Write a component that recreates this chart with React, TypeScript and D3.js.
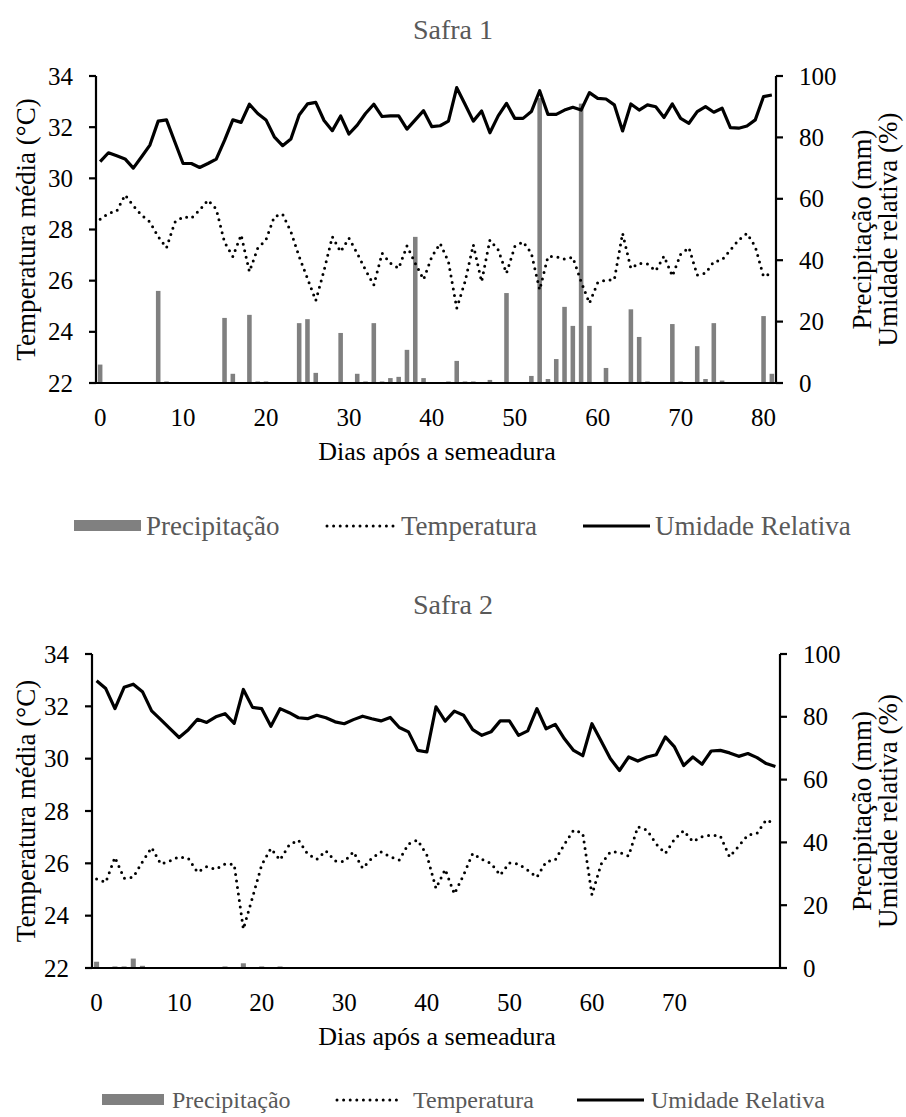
import React, { useRef, useEffect } from "react";
import { select, scaleLinear, line } from "d3";

// Safra 1: one value per day (0..81)
const safra1Prec = [
  6, 0, 0, 0, 0, 0, 0, 30, 0.5, 0,
  0, 0, 0, 0, 0, 21.2, 3, 0, 22.2, 0.5,
  0.5, 0, 0, 0, 19.5, 20.8, 3.3, 0, 0, 16.3,
  0, 3, 0.5, 19.5, 0.5, 1.6, 2, 10.8, 47.6, 1.6,
  0, 0, 0.5, 7.2, 0.5, 0.5, 0, 1, 0, 29.3,
  0, 0, 2.3, 92.8, 1.3, 7.8, 24.8, 18.6, 91, 18.6,
  0, 4.9, 0, 0, 24, 15, 0.5, 0, 0, 19.2,
  0.5, 0, 12, 1.3, 19.5, 0.8, 0, 0, 0, 0,
  21.8, 3,
];
const safra1Temp = [
  28.4, 28.63, 28.72, 29.35, 28.93, 28.56, 28.3, 27.72, 27.28, 28.28,
  28.5, 28.44, 28.76, 29.15, 28.8, 27.5, 26.94, 27.79, 26.35, 27.27,
  27.6, 28.5, 28.6, 27.92, 26.94, 26.09, 25.22, 26.4, 27.72, 27.13,
  27.66, 27.07, 26.42, 25.83, 27.07, 26.68, 26.48, 27.36, 26.68, 26.05,
  26.94, 27.46, 26.74, 24.92, 25.96, 27.4, 25.96, 27.59, 27.2, 26.29,
  27.33, 27.52, 27.07, 25.64, 26.94, 26.94, 26.84, 26.91, 25.96, 25.12,
  25.92, 26.03, 26.03, 27.85, 26.48, 26.68, 26.65, 26.38, 26.96, 26.18,
  27.03, 27.29, 26.22, 26.29, 26.74, 26.81, 27.2, 27.59, 27.85, 27.33,
  26.16, 26.29,
];
const safra1UR = [
  72.1, 75, 74, 73, 70, 73.7, 77.5, 85.3, 85.7, 78.6,
  71.5, 71.5, 70.2, 71.5, 72.9, 79, 85.7, 84.9, 90.8, 87.8,
  85.7, 80.2, 77.3, 79.5, 87.3, 90.9, 91.4, 85.5, 82.2, 87,
  81.1, 84, 87.8, 90.8, 86.8, 87, 87, 82.7, 85.7, 88.7,
  83.5, 83.8, 85.3, 96.2, 90.8, 85.3, 88.6, 81.5, 87, 91.1,
  86.2, 86.2, 88.4, 95.2, 87.5, 87.5, 88.9, 89.8, 88.9, 94.6,
  92.7, 92.5, 90.6, 82.1, 90.9, 88.9, 90.6, 90, 86.5, 90.9,
  86.2, 84.6, 88.4, 90, 88.2, 89.5, 83.2, 83, 83.7, 85.7,
  93.3, 93.8,
];
const safra1XLabels = ["0", "10", "20", "30", "40", "50", "60", "70", "80"];
const safra1XLabelIdx = [0, 10, 20, 30, 40, 50, 60, 70, 80];

// Safra 2: 75 records
const safra2Prec = [
  2, 0, 0.5, 0.5, 3, 0.7, 0, 0, 0, 0,
  0, 0, 0, 0, 0.5, 0, 1.5, 0, 0.5, 0,
  0.5, 0, 0, 0, 0, 0, 0, 0, 0, 0,
  0, 0, 0, 0, 0, 0, 0, 0, 0, 0,
  0, 0, 0, 0, 0, 0, 0, 0, 0, 0,
  0, 0, 0, 0, 0, 0, 0, 0, 0, 0,
  0, 0, 0, 0, 0, 0, 0, 0, 0, 0,
  0, 0, 0, 0, 0,
];
const safra2Temp = [
  25.4, 25.28, 26.23, 25.43, 25.47, 26.06, 26.6, 25.97, 26.09, 26.25,
  26.19, 25.66, 25.87, 25.77, 25.97, 25.96, 23.49, 24.7, 25.94, 26.57,
  26.13, 26.7, 26.89, 26.36, 26.15, 26.48, 26.09, 26.06, 26.44, 25.81,
  26.19, 26.44, 26.25, 26.13, 26.74, 26.89, 26.32, 25.04, 25.77, 24.83,
  25.55, 26.38, 26.15, 26, 25.55, 26.02, 25.97, 25.74, 25.47, 26.06,
  26.13, 26.73, 27.27, 27.15, 24.8, 25.97, 26.44, 26.42, 26.28, 27.4,
  27.27, 26.74, 26.38, 26.92, 27.25, 26.83, 27.02, 27.08, 27.04, 26.25,
  26.66, 27.08, 27.15, 27.66, 27.5,
];
const safra2UR = [
  91.5, 89, 82.6, 89.4, 90.4, 88, 81.9, 79.1, 76.2, 73.4,
  75.9, 79.2, 78.2, 80, 81, 77.9, 88.7, 83, 82.6, 77,
  82.6, 81.3, 79.7, 79.4, 80.5, 79.7, 78.4, 77.8, 79.1, 80.2,
  79.4, 78.7, 79.8, 76.6, 75.2, 69.3, 68.8, 83.2, 78.6, 81.8,
  80.5, 75.9, 74.1, 75.2, 78.7, 78.7, 74.1, 75.5, 82.6, 76.2,
  77.6, 73, 69.3, 67.6, 77.8, 72.3, 66.7, 62.9, 67.2, 65.9,
  67.2, 67.9, 73.6, 70.4, 64.5, 67.2, 64.9, 69.1, 69.3, 68.5,
  67.4, 68.3, 67, 65.1, 64.2,
];
const safra2XLabels = ["0", "10", "20", "30", "40", "50", "60", "70"];
const safra2XLabelIdx = [0, 9, 18, 27, 36, 45, 54, 63];

const tempTicks = [22, 24, 26, 28, 30, 32, 34];
const precTicks = [0, 20, 40, 60, 80, 100];

const FONT = '"Liberation Serif", "DejaVu Serif", "Times New Roman", serif';
const GRAY_TEXT = "#595959";
const BAR = "#808080";

const Panel = ({ title, prec, temp, ur, xLabels, xLabelIdx, geo }) => {
  const gRef = useRef(null);

  useEffect(() => {
    const g = select(gRef.current);
    g.selectAll("*").remove();

    const n = prec.length;
    const x = scaleLinear().domain([-0.5, n - 0.5]).range([geo.left, geo.right]);
    const yT = scaleLinear().domain([22, 34]).range([geo.bottom, geo.top]);
    const yP = scaleLinear().domain([0, 100]).range([geo.bottom, geo.top]);
    const step = x(1) - x(0);
    const barW = step * 0.55;

    const txt = (sel) => sel.style("font-family", FONT);

    // title
    g.append("text")
      .call(txt)
      .attr("x", 453)
      .attr("y", geo.titleY)
      .attr("text-anchor", "middle")
      .attr("font-size", 28)
      .attr("fill", GRAY_TEXT)
      .text(title);

    // precipitation bars
    g.selectAll(".bar")
      .data(prec)
      .join("rect")
      .attr("class", "bar")
      .attr("x", (d, i) => x(i) - barW / 2)
      .attr("width", barW)
      .attr("y", (d) => yP(d))
      .attr("height", (d) => yP(0) - yP(d))
      .attr("fill", BAR);

    // temperature (dotted) and humidity (solid)
    const tempLine = line().x((d, i) => x(i)).y((d) => yT(d));
    const urLine = line().x((d, i) => x(i)).y((d) => yP(d));

    g.append("path")
      .attr("d", tempLine(temp))
      .attr("fill", "none")
      .attr("stroke", "#000")
      .attr("stroke-width", 3)
      .attr("stroke-linecap", "round")
      .attr("stroke-dasharray", "0 6.6");

    g.append("path")
      .attr("d", urLine(ur))
      .attr("fill", "none")
      .attr("stroke", "#000")
      .attr("stroke-width", 3.2)
      .attr("stroke-linejoin", "round");

    // axes lines
    g.append("line")
      .attr("x1", geo.left).attr("x2", geo.right)
      .attr("y1", geo.bottom).attr("y2", geo.bottom)
      .attr("stroke", "#000").attr("stroke-width", 2.2);
    g.append("line")
      .attr("x1", geo.left).attr("x2", geo.left)
      .attr("y1", geo.top).attr("y2", geo.bottom)
      .attr("stroke", "#000").attr("stroke-width", 2.2);
    g.append("line")
      .attr("x1", geo.right).attr("x2", geo.right)
      .attr("y1", geo.top).attr("y2", geo.bottom)
      .attr("stroke", "#000").attr("stroke-width", 2.2);

    // left ticks
    g.selectAll(".lt")
      .data(tempTicks)
      .join("line")
      .attr("class", "lt")
      .attr("x1", geo.left - 7).attr("x2", geo.left)
      .attr("y1", (d) => yT(d)).attr("y2", (d) => yT(d))
      .attr("stroke", "#000").attr("stroke-width", 2.2);
    g.selectAll(".ltl")
      .data(tempTicks)
      .join("text")
      .attr("class", "ltl")
      .call(txt)
      .attr("x", geo.left - 23)
      .attr("y", (d) => yT(d) + 8.5)
      .attr("text-anchor", "end")
      .attr("font-size", 25)
      .text((d) => d);

    // right ticks
    g.selectAll(".rt")
      .data(precTicks)
      .join("line")
      .attr("class", "rt")
      .attr("x1", geo.right).attr("x2", geo.right + 7)
      .attr("y1", (d) => yP(d)).attr("y2", (d) => yP(d))
      .attr("stroke", "#000").attr("stroke-width", 2.2);
    g.selectAll(".rtl")
      .data(precTicks)
      .join("text")
      .attr("class", "rtl")
      .call(txt)
      .attr("x", geo.right + 23)
      .attr("y", (d) => yP(d) + 8.5)
      .attr("font-size", 25)
      .text((d) => d);

    // x labels
    g.selectAll(".xl")
      .data(xLabels)
      .join("text")
      .attr("class", "xl")
      .call(txt)
      .attr("x", (d, i) => x(xLabelIdx[i]))
      .attr("y", geo.bottom + 43)
      .attr("text-anchor", "middle")
      .attr("font-size", 25)
      .text((d) => d);

    g.append("text")
      .call(txt)
      .attr("x", 437)
      .attr("y", geo.bottom + 77)
      .attr("text-anchor", "middle")
      .attr("font-size", 26)
      .text("Dias após a semeadura");

    const midY = (geo.top + geo.bottom) / 2;
    g.append("text")
      .call(txt)
      .attr("transform", `translate(35,${midY}) rotate(-90)`)
      .attr("text-anchor", "middle")
      .attr("font-size", 27)
      .text("Temperatura média (°C)");
    g.append("text")
      .call(txt)
      .attr("transform", `translate(871,${midY}) rotate(-90)`)
      .attr("text-anchor", "middle")
      .attr("font-size", 27)
      .text("Precipitação (mm)");
    g.append("text")
      .call(txt)
      .attr("transform", `translate(897,${midY}) rotate(-90)`)
      .attr("text-anchor", "middle")
      .attr("font-size", 27)
      .text("Umidade relativa (%)");

    // legend
    const lg = geo.legend;
    const ly = lg.y;
    g.append("rect")
      .attr("x", lg.rect[0]).attr("width", lg.rect[1] - lg.rect[0])
      .attr("y", ly - 6).attr("height", 11)
      .attr("fill", BAR);
    g.append("line")
      .attr("x1", lg.dot[0]).attr("x2", lg.dot[1])
      .attr("y1", ly).attr("y2", ly)
      .attr("stroke", "#000").attr("stroke-width", 3)
      .attr("stroke-linecap", "round").attr("stroke-dasharray", "0 6.6");
    g.append("line")
      .attr("x1", lg.solid[0]).attr("x2", lg.solid[1])
      .attr("y1", ly).attr("y2", ly)
      .attr("stroke", "#000").attr("stroke-width", 3.2);
    const names = ["Precipitação", "Temperatura", "Umidade Relativa"];
    g.selectAll(".lgt")
      .data(names)
      .join("text")
      .attr("class", "lgt")
      .call(txt)
      .attr("x", (d, i) => lg.text[i])
      .attr("y", ly + lg.fs * 0.34)
      .attr("font-size", lg.fs)
      .attr("fill", GRAY_TEXT)
      .text((d) => d);
  }, [title, prec, temp, ur, xLabels, xLabelIdx, geo]);

  return <g ref={gRef} />;
};

const geo1 = {
  left: 96, right: 776, top: 76, bottom: 383, titleY: 39,
  legend: { y: 526, fs: 27, rect: [74, 141], dot: [327, 394], solid: [583, 650], text: [146, 401, 655] },
};
const geo2 = {
  left: 92, right: 780, top: 654, bottom: 968, titleY: 614,
  legend: { y: 1100, fs: 24, rect: [102, 164], dot: [337, 399], solid: [577, 644], text: [172, 413, 651] },
};

export default function App() {
  return (
    <svg width={906} height={1117} style={{ position: "absolute", left: 0, top: 0, background: "#fff", fontFamily: FONT }}>
      <Panel title="Safra 1" prec={safra1Prec} temp={safra1Temp} ur={safra1UR}
        xLabels={safra1XLabels} xLabelIdx={safra1XLabelIdx} geo={geo1} />
      <Panel title="Safra 2" prec={safra2Prec} temp={safra2Temp} ur={safra2UR}
        xLabels={safra2XLabels} xLabelIdx={safra2XLabelIdx} geo={geo2} />
    </svg>
  );
}
